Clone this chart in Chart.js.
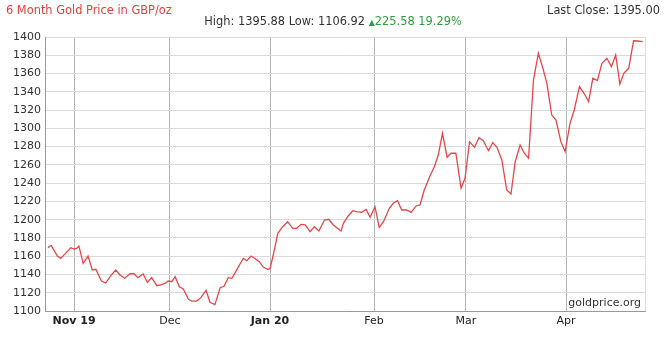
<!DOCTYPE html>
<html>
<head>
<meta charset="utf-8">
<script src="https://cdn.jsdelivr.net/npm/chart.js@4/dist/chart.umd.min.js"></script>
<style>
  html, body { margin: 0; padding: 0; background: #fff; }
  #wrap { position: relative; width: 666px; height: 342px; font-family: "DejaVu Sans", sans-serif; font-size: 11.4px; }
  #chart { position: absolute; left: 0; top: 0; }
  .txt { position: absolute; white-space: nowrap; line-height: 13px; }
  #title { left: 6px; top: 4px; color: #e2403c; }
  #last { right: 6px; top: 4px; color: #333; }
  #stats { left: 0; width: 666px; top: 15px; text-align: center; color: #333; }
  #stats .up { color: #2f9d3e; }
  #stats .tri { font-size: 8px; }
  #brand { right: 25px; top: 296px; color: #333; font-size: 11px; }
</style>
</head>
<body>
<div id="wrap">
  <canvas id="chart" width="666" height="342"></canvas>
  <div class="txt" id="title">6 Month Gold Price in GBP/oz</div>
  <div class="txt" id="last">Last Close: 1395.00</div>
  <div class="txt" id="stats">High: 1395.88 Low: 1106.92 <span class="up"><span class="tri">▲</span>225.58 19.29%</span></div>
  <div class="txt" id="brand">goldprice.org</div>
</div>
<script>
// days counted from 23 Oct 2019, prices in GBP/oz
const days = [
  0.9, 1.9, 3.8, 4.8, 6.0, 7.9, 8.9, 9.7, 10.4, 11.7, 13.2, 14.5, 15.6, 17.3, 18.6,
  20.2, 21.7, 23.0, 24.4, 26.1, 27.3, 28.5, 30.1, 31.4, 32.7, 34.3, 35.5, 36.8, 37.8,
  38.9, 39.9, 41.2, 42.4, 44.0, 45.0, 46.5, 47.8, 49.4, 50.6, 52.1, 53.7, 54.9, 56.2,
  57.3, 58.8, 59.8, 60.8, 61.9, 63.2, 64.5, 65.7, 67.0, 68.3, 69.0, 70.0, 71.4, 72.9,
  74.4, 76.0, 77.2, 78.5, 79.8, 81.3, 82.6, 84.0, 85.7, 87.0, 88.4, 90.8, 91.5, 93.0,
  94.4, 95.6, 97.1, 98.5, 99.7, 101.2, 102.5, 103.8, 105.6, 106.8, 108.1, 109.4, 110.9,
  112.3, 113.8, 115.0, 116.3, 118.1, 119.4, 120.6, 121.9, 123.3, 124.5, 126.0, 127.6,
  128.8, 130.2, 131.7, 133.1, 134.4, 136.0, 137.3, 138.6, 140.1, 141.6, 142.9, 144.2,
  145.7, 146.9, 148.3, 149.8, 151.3, 152.7, 153.9, 155.4, 156.7, 158.2, 159.5, 161.0,
  162.3, 163.9, 165.3, 166.7, 168.0, 169.4, 170.8, 172.3, 173.7, 175.0, 176.3, 177.5,
  179.0, 180.5, 181.7, 183.3
];
const prices = [
  1169.4, 1171.9, 1160.2, 1157.6, 1162.0, 1169.3, 1167.9, 1168.6, 1171.2, 1152.2, 1160.2,
  1144.9, 1145.6, 1132.8, 1130.6, 1138.7, 1144.9, 1139.4, 1135.8, 1140.8, 1140.8, 1136.5,
  1140.5, 1131.4, 1136.5, 1127.7, 1128.5, 1130.3, 1132.8, 1132.1, 1137.6, 1126.6, 1124.1,
  1112.8, 1110.9, 1110.9, 1114.6, 1122.6, 1109.5, 1106.9, 1125.5, 1127.0, 1136.5, 1135.8,
  1145.0, 1151.5, 1157.6, 1155.1, 1160.2, 1157.3, 1154.0, 1147.8, 1145.6, 1146.3, 1161.3,
  1185.0, 1192.3, 1197.8, 1190.5, 1190.5, 1194.9, 1194.2, 1186.8, 1192.3, 1187.6, 1199.6,
  1200.4, 1194.2, 1187.6, 1196.0, 1204.0, 1209.8, 1208.7, 1208.0, 1211.3, 1202.6, 1214.2,
  1191.6, 1197.8, 1212.4, 1217.9, 1220.8, 1210.6, 1210.6, 1208.0, 1215.0, 1216.1, 1232.5,
  1248.0, 1258.0, 1270.8, 1294.6, 1268.3, 1272.7, 1272.7, 1234.3, 1245.3, 1285.4, 1279.2,
  1289.7, 1286.5, 1275.5, 1284.3, 1279.2, 1265.3, 1232.5, 1228.1, 1263.5, 1281.7, 1273.3,
  1267.2, 1352.9, 1382.2, 1365.7, 1349.3, 1314.6, 1309.1, 1285.4, 1274.4, 1305.5, 1320.1,
  1345.6, 1338.4, 1329.2, 1354.8, 1352.2, 1371.2, 1376.7, 1367.5, 1380.3, 1348.5, 1360.3,
  1365.7, 1395.9, 1395.6, 1395.0
];

// month ticks where they sit on the original axis, last one is the right edge
const tickDays = [8.9, 38.3, 69.0, 100.9, 129.1, 159.8, 184];
const tickLabels = ['Nov 19', 'Dec', 'Jan 20', 'Feb', 'Mar', 'Apr', ''];
const boldTicks = [0, 2];

const font = 'DejaVu Sans';

new Chart(document.getElementById('chart'), {
  type: 'line',
  data: {
    datasets: [{
      data: days.map((d, i) => ({ x: d, y: prices[i] })),
      borderColor: '#e8464a',
      borderWidth: 1.3,
      pointRadius: 0,
      tension: 0,
      fill: false
    }]
  },
  options: {
    responsive: false,
    animation: false,
    layout: { padding: { top: 37, right: 21, left: 0, bottom: 0 } },
    plugins: {
      legend: { display: false },
      tooltip: { enabled: false }
    },
    scales: {
      x: {
        type: 'linear',
        min: 0,
        max: 184,
        afterBuildTicks: s => { s.ticks = tickDays.map(v => ({ value: v })); },
        afterFit: s => { s.height = 31; },
        ticks: {
          autoSkip: false,
          maxRotation: 0,
          padding: 4,
          color: '#222',
          font: c => ({ family: font, size: 11, weight: boldTicks.includes(c.index) ? 'bold' : 'normal' }),
          callback: (v, i) => tickLabels[i]
        },
        grid: {
          drawTicks: false,
          color: c => (c.tick && c.tick.value === 184) ? '#dddddd' : '#b4b4b4'
        },
        border: { color: '#999' }
      },
      y: {
        min: 1100,
        max: 1400,
        afterFit: s => { s.width = 45; },
        ticks: {
          stepSize: 20,
          padding: 4,
          color: '#333',
          font: { family: font, size: 11 },
          callback: v => String(v)
        },
        grid: { drawTicks: false, color: '#dadada' },
        border: { color: '#999' }
      }
    }
  }
});
</script>
</body>
</html>
